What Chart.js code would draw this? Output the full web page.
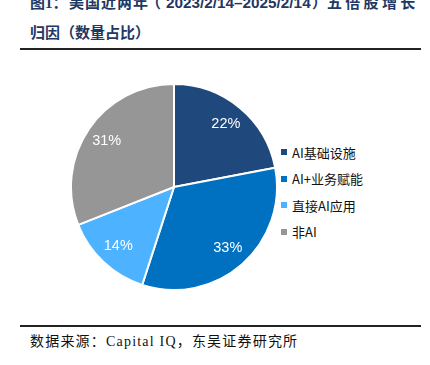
<!DOCTYPE html>
<html>
<head>
<meta charset="utf-8">
<script src="https://cdn.jsdelivr.net/npm/chart.js@4/dist/chart.umd.min.js"></script>
<style>
  body { margin: 0; width: 430px; height: 365px; background: #fff; position: relative; overflow: hidden;
         font-family: "Noto Sans CJK SC", "Liberation Sans", sans-serif; }
  .title { position: absolute; color: #1f3864; font-weight: bold; font-size: 15px;
           font-family: "Liberation Serif", "Noto Sans CJK SC", serif; white-space: nowrap; line-height: 20px; }
  .rule { position: absolute; left: 20px; width: 401px; height: 2px; background: #222; }
  .source { position: absolute; left: 30px; top: 330px; font-size: 14px; color: #111; letter-spacing: 1.2px;
            font-family: "Liberation Serif", "Noto Sans CJK SC", serif; white-space: nowrap; }
  #pieBox { position: absolute; left: 70px; top: 83px; width: 208px; height: 208px; }
  #legend { position: absolute; left: 281px; top: 139px; font-size: 13px; color: #111; }
  .item { height: 26.5px; display: flex; align-items: center; }
  .sw { width: 6px; height: 6px; margin-right: 5px; }
</style>
</head>
<body>
<div class="title" style="top:-7px; left:30px;">图1：</div>
<div class="title" style="top:-7px; left:69px; letter-spacing:1px;">美国近两年</div>
<div class="title" style="top:-7px; left:146px;">（</div>
<div class="title" style="top:-7px; left:166px; font-family:'Liberation Sans',sans-serif; transform:scaleX(1.02); transform-origin:left;">2023/2/14–2025/2/14</div>
<div class="title" style="top:-7px; left:312px;">）</div>
<div class="title" style="top:-7px; left:327px; letter-spacing:3.3px;">五倍股增长</div>
<div class="title" style="top:23px; left:30px;">归因（数量占比）</div>
<div class="rule" style="top:48px;"></div>
<div id="pieBox"><canvas id="pie"></canvas></div>
<div id="legend"></div>
<div class="rule" style="top:325px;"></div>
<div class="source">数据来源：Capital IQ，东吴证券研究所</div>
<script>
// Data
const categories = ['AI基础设施', 'AI+业务赋能', '直接AI应用', '非AI'];
const shares = [22, 33, 14, 31];
const colors = ['#1f497d', '#0070c0', '#4db2ff', '#969696'];

// Legend
const legend = document.getElementById('legend');
categories.forEach((name, i) => {
    legend.innerHTML += '<div class="item"><span class="sw" style="background:' + colors[i] + '"></span>' + name + '</div>';
});

// Percent labels inside slices
const sliceLabels = {
    id: 'sliceLabels',
    afterDatasetsDraw(chart) {
        const ctx = chart.ctx;
        const meta = chart.getDatasetMeta(0);
        ctx.save();
        ctx.fillStyle = '#fff';
        ctx.font = '14.5px "Liberation Sans", Arial, sans-serif';
        ctx.textAlign = 'center';
        ctx.textBaseline = 'middle';
        meta.data.forEach((arc, i) => {
            const mid = (arc.startAngle + arc.endAngle) / 2;
            const r = arc.outerRadius * 0.79;
            ctx.fillText(shares[i] + '%', arc.x + Math.cos(mid) * r, arc.y + Math.sin(mid) * r);
        });
        ctx.restore();
    }
};

new Chart(document.getElementById('pie').getContext('2d'), {
    type: 'pie',
    data: {
        labels: categories,
        datasets: [{
            data: shares,
            backgroundColor: colors,
            borderColor: '#fff',
            borderWidth: 2
        }]
    },
    options: {
        responsive: true,
        maintainAspectRatio: false,
        animation: false,
        layout: { padding: 0 },
        plugins: {
            legend: { display: false },
            tooltip: { enabled: false }
        }
    },
    plugins: [sliceLabels]
});
</script>
</body>
</html>
